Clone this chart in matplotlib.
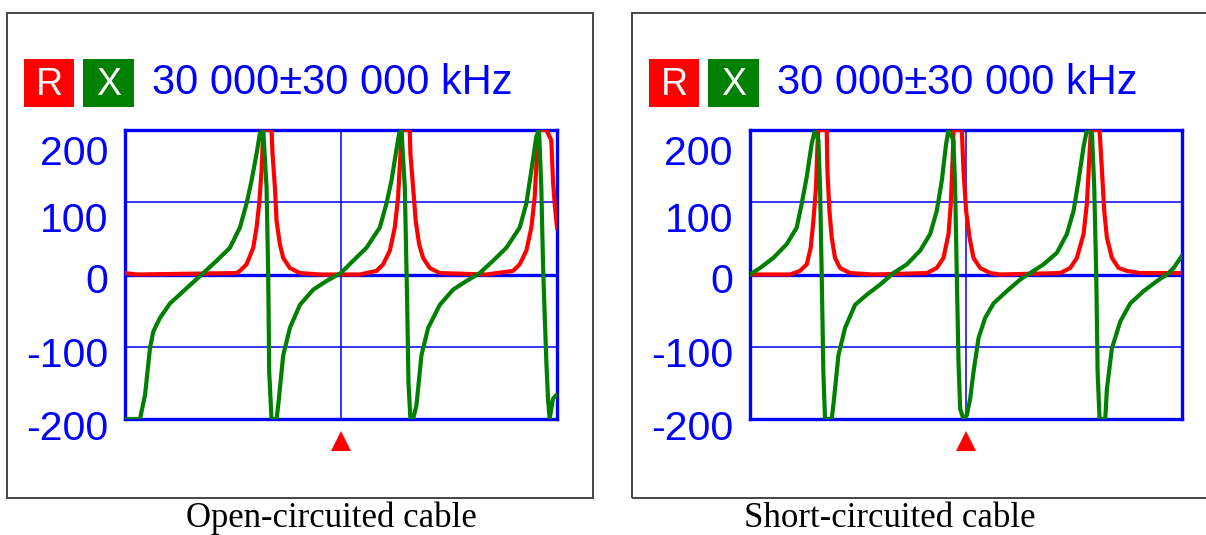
import matplotlib
matplotlib.use("Agg")
import matplotlib.pyplot as plt
from matplotlib.patches import Rectangle
from matplotlib.transforms import blended_transform_factory

# ---------------- data (frequency in MHz, values in ohms) ----------------
open_x_f = [0.0, 2.08, 2.78, 3.47, 3.93, 4.86, 6.25, 8.56, 10.87, 12.72, 14.57, 15.96,
            16.88, 17.58, 18.27, 18.73, 19.20, 19.66, 19.89, 20.03, 20.35, 21.05, 21.28,
            21.97, 22.90, 24.29, 26.14, 27.99, 29.98, 31.69, 33.54, 35.39, 36.31, 37.01,
            37.61, 38.07, 38.40, 38.86, 39.18, 39.37, 39.64, 40.01, 40.48, 41.17, 42.10,
            43.72, 45.57, 47.42, 49.27, 51.12, 52.97, 54.82, 55.74, 56.44, 57.13, 57.50,
            57.82, 58.06, 58.29, 58.52, 58.75, 58.98, 59.44, 59.91]
open_x_v = [-200, -200, -167, -102, -79, -60, -40, -19, 2, 19, 37, 65,
            98, 130, 167, 195, 200, 121, 0, -135, -200, -200, -181,
            -112, -74, -42, -21, -9, 2, 19, 37, 65, 98, 130,
            167, 195, 200, 121, -33, -149, -200, -200, -181, -112, -74,
            -42, -21, -9, 2, 19, 37, 65, 98, 144, 191, 200,
            121, 14, -56, -121, -172, -200, -172, -167]

open_r_f = [0.0, 1.6, 15.50, 15.96, 16.88, 17.81, 18.27, 18.64, 18.97, 19.20, 20.35,
            20.49, 20.82, 21.05, 21.51, 21.97, 22.90, 24.29, 27.06, 32.61, 34.93, 35.85,
            36.78, 37.47, 37.93, 38.26, 38.44, 39.55, 39.64, 40.01, 40.38, 40.85, 41.40,
            42.33, 43.72, 50.19, 53.89, 54.82, 55.74, 56.44, 56.90, 57.22, 57.50, 58.52,
            59.21, 59.44, 59.68, 60.0]
open_r_v = [2, 0, 2, 5, 14, 37, 65, 98, 144, 200, 200,
            167, 121, 74, 42, 23, 9, 2, 0, 0, 5, 14,
            33, 65, 107, 167, 200, 200, 167, 121, 74, 42, 23,
            9, 2, 0, 5, 14, 33, 65, 107, 167, 200, 200,
            186, 130, 98, 65]

short_x_f = [0.0, 1.39, 3.24, 5.10, 6.49, 7.18, 7.88, 8.57, 9.03, 9.50, 9.73, 9.96,
             10.19, 10.42, 11.35, 11.58, 12.28, 13.20, 14.59, 16.22, 18.07, 19.92, 21.78,
             23.63, 25.02, 25.94, 26.64, 27.24, 27.57, 28.26, 28.49, 28.72, 28.96, 29.19,
             29.65, 30.11, 30.58, 31.04, 31.74, 32.66, 33.82, 35.67, 37.52, 38.91, 40.77,
             42.62, 44.01, 44.94, 45.63, 46.33, 46.79, 47.49, 47.81, 48.09, 48.28, 48.55,
             49.34, 49.57, 50.27, 51.43, 52.82, 54.67, 56.52, 57.91, 58.84, 60.0]
short_x_v = [0, 9, 23, 42, 65, 98, 135, 181, 200, 186, 121, 0,
             -135, -200, -200, -181, -112, -74, -42, -28, -14, 2, 14,
             33, 56, 88, 130, 181, 200, 186, 121, 0, -121, -186,
             -200, -195, -172, -135, -88, -60, -40, -23, -7, 2, 14,
             30, 56, 88, 130, 177, 200, 195, 121, 0, -135, -200,
             -200, -158, -102, -65, -40, -23, -9, 0, 9, 26]

short_r_f = [0.0, 5.56, 6.95, 7.88, 8.43, 8.80, 9.17, 9.36, 9.50, 10.66, 10.75, 11.03,
             11.35, 11.81, 12.51, 13.90, 17.14, 24.56, 25.94, 26.87, 27.57, 27.89, 28.17,
             28.26, 29.42, 29.65, 30.02, 30.49, 31.04, 31.97, 33.36, 34.75, 43.09, 44.48,
             45.40, 46.33, 46.79, 47.16, 47.35, 48.55, 48.88, 49.20, 49.57, 50.27, 51.19,
             52.35, 54.20, 60.0]
short_r_v = [0, 0, 5, 14, 37, 74, 121, 177, 200, 200, 144, 88,
             51, 23, 9, 2, 0, 2, 9, 23, 56, 98, 167,
             200, 200, 144, 88, 51, 23, 9, 2, 0, 2, 9,
             23, 56, 98, 167, 200, 200, 144, 88, 51, 23, 9,
             5, 2, 2]

y_tick_values = [200, 100, 0, -100, -200]
y_tick_labels = ["200", "100", "0", "-100", "-200"]
header_text = "30 000\u00b130 000 kHz"
captions = ["Open-circuited cable", "Short-circuited cable"]
center_mhz = 30.0

# ---------------- styling ----------------
W, H = 1206, 535
BLUE = "#0000FF"
RED = "#FF0000"
GREEN = "#008000"
SANS = "Liberation Sans"
SERIF = "Liberation Serif"

fig = plt.figure(figsize=(W / 100, H / 100), dpi=100)
fig.patch.set_facecolor("white")


def fx(px):
    return px / W


def fy(py):
    return (H - py) / H


# baseline pixel positions (device rendering) of the y labels
label_baselines_px = [165, 232, 293, 367, 440]

panels = [
    dict(off=0, xf=open_x_f, xv=open_x_v, rf=open_r_f, rv=open_r_v, cap=captions[0], capx=331),
    dict(off=625, xf=short_x_f, xv=short_x_v, rf=short_r_f, rv=short_r_v, cap=captions[1], capx=890),
]

for p in panels:
    o = p["off"]
    # outer frame of the screenshot
    fig.patches.append(Rectangle((fx(7 + o), fy(498)), fx(600 if o else 586), (498 - 13) / H,
                                 transform=fig.transFigure, fill=False,
                                 edgecolor="#454545", linewidth=1.4, zorder=0))
    # R / X header boxes
    fig.patches.append(Rectangle((fx(24 + o), fy(107)), fx(50), 48 / H,
                                 transform=fig.transFigure, facecolor=RED,
                                 edgecolor="none", zorder=1))
    fig.patches.append(Rectangle((fx(83 + o), fy(107)), fx(51), 48 / H,
                                 transform=fig.transFigure, facecolor=GREEN,
                                 edgecolor="none", zorder=1))
    fig.text(fx(49 + o), fy(95), "R", color="white", fontsize=27, family=SANS,
             ha="center", va="baseline", zorder=2)
    fig.text(fx(108.5 + o), fy(95), "X", color="white", fontsize=27, family=SANS,
             ha="center", va="baseline", zorder=2)
    fig.text(fx(152 + o), fy(94), header_text, color=BLUE, fontsize=30, family=SANS,
             ha="left", va="baseline")

    # plot area
    ax = fig.add_axes([fx(125 + o), fy(419), fx(432), 289 / H])
    ax.set_xlim(0, 60)
    ax.set_ylim(-200, 200)
    for s in ax.spines.values():
        s.set_color(BLUE)
        s.set_linewidth(2.4)
    ax.set_xticks([center_mhz])
    ax.set_yticks([-100, 100])
    ax.tick_params(length=0, labelbottom=False, labelleft=False)
    ax.grid(True, color=BLUE, linewidth=1.1)
    ax.axhline(0, color=BLUE, linewidth=2.4, zorder=1.5)

    ax.plot(p["rf"], p["rv"], color=RED, linewidth=3.0, zorder=3,
            solid_joinstyle="round")
    ax.plot(p["xf"], p["xv"], color=GREEN, linewidth=3.0, zorder=3.1,
            solid_joinstyle="round")

    # y labels as drawn by the instrument
    tr = blended_transform_factory(ax.transAxes, fig.transFigure)
    for lab, bpx in zip(y_tick_labels, label_baselines_px):
        ax.text(-(125 - 108) / 432, fy(bpx), lab, transform=tr, color=BLUE,
                fontsize=29.5, family=SANS, ha="right", va="baseline", clip_on=False)

    # marker triangle at centre frequency
    trm = blended_transform_factory(ax.transData, fig.transFigure)
    ax.plot([center_mhz], [fy(441)], marker="^", markersize=15, color=RED,
            markeredgewidth=0, transform=trm, clip_on=False)

    # caption
    fig.text(fx(p["capx"]), fy(527), p["cap"], color="black", fontsize=25,
             family=SERIF, ha="center", va="baseline")

fig.savefig("out.png", dpi=100, facecolor="white")
